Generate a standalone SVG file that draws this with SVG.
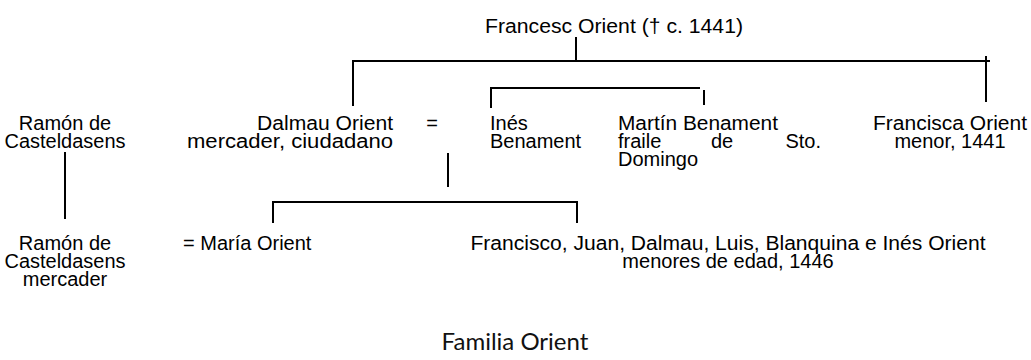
<svg xmlns="http://www.w3.org/2000/svg" width="1031" height="360" viewBox="0 0 1031 360">
<style>
text{font-family:"Liberation Sans",Arial,sans-serif;font-size:20px;fill:#000}
.m{text-anchor:middle}.e{text-anchor:end}
.t{font-family:"Lato","Open Sans",sans-serif;font-size:24px;fill:#111}
.c line{stroke:#000;stroke-width:2}
</style>
<rect width="1031" height="360" fill="#fff"/>
<g class="c" id="connectors">
<line x1="576" y1="37" x2="576" y2="61"/>
<line x1="352" y1="61" x2="990" y2="61"/>
<line x1="353" y1="60" x2="353" y2="106"/>
<line x1="986" y1="56" x2="986" y2="102"/>
<line x1="490" y1="88" x2="700" y2="88"/>
<line x1="491" y1="87" x2="491" y2="108"/>
<line x1="704" y1="90" x2="704" y2="105"/>
<line x1="448" y1="153" x2="448" y2="187"/>
<line x1="65" y1="152" x2="65" y2="219"/>
<line x1="272" y1="202" x2="578" y2="202"/>
<line x1="273" y1="201" x2="273" y2="223"/>
<line x1="577" y1="201" x2="577" y2="223"/>
</g>
<g id="francesc"><text x="614" y="33" class="m" textLength="258" lengthAdjust="spacingAndGlyphs">Francesc Orient († c. 1441)</text></g>
<g id="ramon1"><text x="65" y="130" class="m">Ramón de</text><text x="65" y="148" class="m" textLength="121" lengthAdjust="spacingAndGlyphs">Casteldasens</text></g>
<g id="dalmau"><text x="393" y="130" class="e" textLength="136" lengthAdjust="spacingAndGlyphs">Dalmau Orient</text><text x="393" y="148" class="e" textLength="206" lengthAdjust="spacingAndGlyphs">mercader, ciudadano</text></g>
<g id="eq"><text x="432" y="130" class="m">=</text></g>
<g id="ines"><text x="490" y="130">Inés</text><text x="490" y="148">Benament</text></g>
<g id="martin"><text x="618" y="130" textLength="160" lengthAdjust="spacingAndGlyphs">Martín Benament</text><text x="618" y="148">fraile</text><text x="722" y="148" class="m">de</text><text x="821" y="148" class="e">Sto.</text><text x="618" y="166">Domingo</text></g>
<g id="francisca"><text x="950" y="130" class="m" textLength="154" lengthAdjust="spacingAndGlyphs">Francisca Orient</text><text x="950" y="148" class="m">menor, 1441</text></g>
<g id="ramon2"><text x="65" y="250" class="m">Ramón de</text><text x="65" y="268" class="m" textLength="121" lengthAdjust="spacingAndGlyphs">Casteldasens</text><text x="65" y="286" class="m">mercader</text></g>
<g id="maria"><text x="183" y="250">= María Orient</text></g>
<g id="hijos"><text x="728" y="250" class="m" textLength="515" lengthAdjust="spacingAndGlyphs">Francisco, Juan, Dalmau, Luis, Blanquina e Inés Orient</text><text x="728" y="268" class="m">menores de edad, 1446</text></g>
<text x="515" y="350" class="m t">Familia Orient</text>
</svg>
